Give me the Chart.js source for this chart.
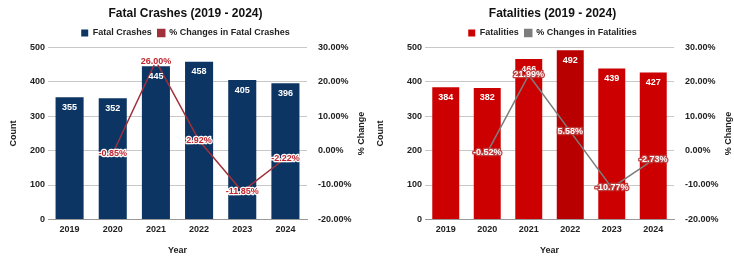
<!DOCTYPE html>
<html>
<head>
<meta charset="utf-8">
<script src="https://cdn.jsdelivr.net/npm/chart.js@4/dist/chart.umd.min.js"></script>
<style>
  html, body { margin: 0; padding: 0; background: #fff; }
  #wrap { display: flex; width: 734px; height: 256px; }
  .box { position: relative; width: 367px; height: 256px; }
</style>
</head>
<body>
<div id="wrap">
  <div class="box"><canvas id="crashChart"></canvas></div>
  <div class="box"><canvas id="fatalChart"></canvas></div>
</div>
<script>
// data
const years = ["2019", "2020", "2021", "2022", "2023", "2024"];
const fatalCrashes = [355, 352, 445, 458, 405, 396];
const crashChange = [null, -0.85, 26.00, 2.92, -11.85, -2.22];
const fatalities = [384, 382, 466, 492, 439, 427];
const fatalityChange = [null, -0.52, 21.99, 5.58, -10.77, -2.73];

const FONT = "'Liberation Sans', Arial, sans-serif";
Chart.defaults.font.family = FONT;
Chart.defaults.color = "#222";

// draws the value labels + right axis title (no datalabels plugin offline)
const valueLabels = {
    id: "valueLabels",
    afterDatasetsDraw(chart, args, opts) {
        const ctx = chart.ctx;
        ctx.save();
        ctx.textAlign = "center";
        ctx.textBaseline = "middle";
        ctx.font = "bold 9px " + FONT;
        // bar values
        chart.getDatasetMeta(0).data.forEach((bar, i) => {
            ctx.fillStyle = "#fff";
            ctx.fillText(chart.data.datasets[0].data[i], bar.x, bar.y + 10);
        });
        // percent values
        chart.getDatasetMeta(1).data.forEach((pt, i) => {
            const v = chart.data.datasets[1].data[i];
            if (v === null) return;
            const txt = v.toFixed(2) + "%";
            ctx.lineWidth = 2.5;
            ctx.lineJoin = "round";
            ctx.strokeStyle = opts.stroke;
            ctx.strokeText(txt, pt.x, pt.y);
            ctx.fillStyle = opts.fill;
            ctx.fillText(txt, pt.x, pt.y);
        });
        // "% Change" reads bottom-to-top like the left title
        const area = chart.chartArea;
        ctx.translate(chart.width - 5, (area.top + area.bottom) / 2);
        ctx.rotate(-Math.PI / 2);
        ctx.fillStyle = "#222";
        ctx.fillText("% Change", 0, 0);
        ctx.restore();
    }
};

function makeChart(id, title, barLabel, barData, barColors, lineLabel, lineData, lineColor, labelStyle, leftW, rightW) {
    const ctx = document.getElementById(id).getContext("2d");
    return new Chart(ctx, {
        type: "bar",
        data: {
            labels: years,
            datasets: [{
                type: "bar",
                label: barLabel,
                data: barData,
                backgroundColor: barColors,
                yAxisID: "y",
                barPercentage: 0.65,
                categoryPercentage: 1.0,
                order: 2
            }, {
                type: "line",
                label: lineLabel,
                data: lineData,
                borderColor: lineColor,
                backgroundColor: lineColor,
                borderWidth: 1.5,
                pointRadius: 0,
                tension: 0,
                yAxisID: "y1",
                order: 1
            }]
        },
        options: {
            responsive: true,
            maintainAspectRatio: false,
            animation: false,
            layout: { padding: { top: 0, bottom: 0, left: 4, right: 0 } },
            plugins: {
                title: {
                    display: true,
                    text: title,
                    font: { size: 12, weight: "bold" },
                    color: "#111",
                    padding: { top: 6, bottom: 2 }
                },
                legend: {
                    labels: {
                        usePointStyle: true,
                        pointStyle: "rect",
                        boxWidth: 7,
                        boxHeight: 7,
                        font: { size: 9, weight: "bold" },
                        color: "#222",
                        padding: 6,
                        sort: (a, b) => a.datasetIndex - b.datasetIndex
                    }
                },
                tooltip: { enabled: false },
                valueLabels: labelStyle
            },
            scales: {
                x: {
                    grid: { display: false, drawTicks: false, tickLength: 0 },
                    border: { color: "#999" },
                    ticks: { font: { size: 9, weight: "bold" }, color: "#222", padding: 5 },
                    title: { display: true, text: "Year", font: { size: 9, weight: "bold" }, color: "#222", padding: { top: 5, bottom: 0 } }
                },
                y: {
                    position: "left",
                    min: 0, max: 500,
                    ticks: { stepSize: 100, font: { size: 9, weight: "bold" }, color: "#222" },
                    grid: { color: "#c8c8c8", drawTicks: false },
                    border: { display: false },
                    title: { display: true, text: "Count", font: { size: 9, weight: "bold" }, color: "#222" },
                    afterFit(s) { s.width = leftW; }
                },
                y1: {
                    position: "right",
                    min: -20, max: 30,
                    ticks: {
                        stepSize: 10,
                        font: { size: 9, weight: "bold" },
                        color: "#222",
                        callback: v => v.toFixed(2) + "%"
                    },
                    grid: { display: false },
                    border: { display: false },
                    afterFit(s) { s.width = rightW; }
                }
            }
        },
        plugins: [valueLabels]
    });
}

makeChart("crashChart", "Fatal Crashes (2019 - 2024)",
    "Fatal Crashes", fatalCrashes, "#0c3563",
    "% Changes in Fatal Crashes", crashChange, "#a0303a",
    { fill: "#c0262f", stroke: "#ffffff" }, 44, 60);

makeChart("fatalChart", "Fatalities (2019 - 2024)",
    "Fatalities", fatalities, ["#cc0000", "#cc0000", "#cc0000", "#b80000", "#cc0000", "#cc0000"],
    "% Changes in Fatalities", fatalityChange, "#7d7d7d",
    { fill: "#ffffff", stroke: "#c04040" }, 54, 60);
</script>
</body>
</html>
